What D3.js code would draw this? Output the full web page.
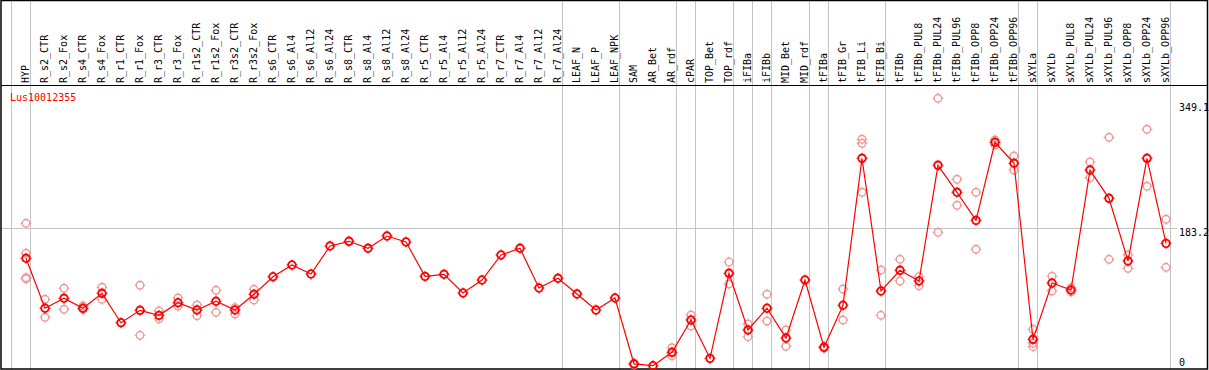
<!DOCTYPE html>
<html>
<head>
<meta charset="utf-8">
<script src="https://cdn.jsdelivr.net/npm/d3@7"></script>
<style>
  body { margin: 0; background: #fff; }
  svg { display: block; }
  text { font-family: "DejaVu Sans Mono", monospace; font-size: 10px; }
</style>
</head>
<body>
<svg id="chart"></svg>
<script>
// sample names along the x axis
var categories = ["HYP", "R_s2_CTR", "R_s2_Fox", "R_s4_CTR", "R_s4_Fox", "R_r1_CTR", "R_r1_Fox", "R_r3_CTR", "R_r3_Fox",
  "R_r1s2_CTR", "R_r1s2_Fox", "R_r3s2_CTR", "R_r3s2_Fox", "R_s6_CTR", "R_s6_Al4", "R_s6_Al12", "R_s6_Al24",
  "R_s8_CTR", "R_s8_Al4", "R_s8_Al12", "R_s8_Al24", "R_r5_CTR", "R_r5_Al4", "R_r5_Al12", "R_r5_Al24",
  "R_r7_CTR", "R_r7_Al4", "R_r7_Al12", "R_r7_Al24", "LEAF_N", "LEAF_P", "LEAF_NPK", "SAM", "AR_Bet", "AR_rdf",
  "cPAR", "TOP_Bet", "TOP_rdf", "iFIBa", "iFIBb", "MID_Bet", "MID_rdf", "tFIBa", "tFIB_Gr", "tFIB_Li", "tFIB_Bi",
  "tFIBb", "tFIBb_PUL8", "tFIBb_PUL24", "tFIBb_PUL96", "tFIBb_OPP8", "tFIBb_OPP24", "tFIBb_OPP96",
  "sXYLa", "sXYLb", "sXYLb_PUL8", "sXYLb_PUL24", "sXYLb_PUL96", "sXYLb_OPP8", "sXYLb_OPP24", "sXYLb_OPP96"];

// first sample of each tissue group (a gray separator goes before it)
var groupStarts = ["HYP", "R_s2_CTR", "LEAF_N", "SAM", "cPAR", "TOP_Bet", "iFIBa", "iFIBb", "MID_Bet",
  "tFIBa", "tFIB_Gr", "tFIBb", "sXYLa", "sXYLb"];

var geneName = "Lus10012355";

// mean expression per sample
var means = [143.3, 76.8, 90.1, 76.8, 96.7, 57.6, 74.1, 67.4, 84.2,
  74.5, 86.1, 74.5, 95.4, 118.8, 134.4, 122.4, 159.6,
  165.9, 156.6, 172.9, 165.0, 119.3, 122.0, 97.1, 114.4,
  147.7, 156.6, 103.8, 116.7, 95.8, 74.5, 90.5, 2.7, 0.4, 18.2,
  61.2, 10.2, 123.3, 47.9, 76.8, 37.2, 114.4, 24.9, 80.8, 276.3, 99.8,
  127.3, 113.1, 267.0, 231.1, 193.8, 297.6, 269.7,
  35.5, 110.4, 101.1, 260.7, 223.1, 139.7, 276.3, 163.2];

// individual replicates (null = not shown)
var repA = [189.8, 88.7, 103.4, 79.8, 104.7, null, 107.4, 73.2, 90.5,
  81.1, 100.7, 77.6, 102.0, null, null, null, null,
  null, null, null, null, null, null, null, null,
  null, null, null, null, null, null, null, 4.0, null, 24.3,
  67.8, null, 138.4, 55.9, 95.4, 47.9, null, 26.0, 102.4, 301.6, 127.7,
  141.9, 118.8, 356.1, 248.4, 231.1, 300.7, 279.4,
  48.8, 119.3, 104.2, 271.4, 304.2, 147.7, 314.9, 195.2];
var repB = [150.0, 64.8, 75.4, 75.4, 88.7, null, 40.8, 62.9, 79.8,
  66.9, 71.4, 69.2, 87.8, null, null, null, null,
  null, null, null, null, null, null, null, null,
  null, null, null, null, null, null, null, 1.5, null, 13.7,
  53.2, null, 109.1, 39.0, 59.9, 26.2, null, 23.8, 61.2, 296.3, 67.4,
  113.1, 106.8, 177.9, 213.8, 155.3, 294.0, 260.7,
  30.2, 99.8, 98.8, 250.5, 141.9, 130.0, 239.1, 131.3];
var repC = [117.5, null, null, null, null, null, null, null, null,
  null, null, null, null, null, null, null, null,
  null, null, null, null, null, null, null, null,
  null, null, null, null, null, null, null, null, null, null,
  null, null, null, null, null, null, null, null, null, 231.1, null,
  null, null, null, null, null, null, null,
  25.7, null, null, null, null, null, null, null];
var repD = [116.0];

var yTicks = [0, 183.2, 349.1];
var gridTicks = [183.2];

var width = 1209, height = 370;
var headerY = 85;

var svg = d3.select("#chart").attr("width", width).attr("height", height);

var x = d3.scalePoint().domain(categories).range([26, 1166]);
var y = d3.scaleLinear().domain([0, 349.1]).range([366, 103.6]);

// group separators
var sepX = groupStarts.map(function (c) { return x(c) - 15; });
sepX.push(x(categories[categories.length - 1]) + 4);
svg.append("g").selectAll("line").data(sepX).enter().append("line")
  .attr("x1", function (d) { return Math.round(d) + 0.5; })
  .attr("x2", function (d) { return Math.round(d) + 0.5; })
  .attr("y1", 0).attr("y2", height)
  .attr("stroke", "#c4c4c4").attr("stroke-width", 1)
  .attr("shape-rendering", "crispEdges");

// horizontal grid
svg.append("g").selectAll("line").data(gridTicks).enter().append("line")
  .attr("x1", 1).attr("x2", 1177)
  .attr("y1", function (d) { return Math.round(y(d)) + 0.5; })
  .attr("y2", function (d) { return Math.round(y(d)) + 0.5; })
  .attr("stroke", "#c4c4c4").attr("stroke-width", 1)
  .attr("shape-rendering", "crispEdges");

// frame and header divider
svg.append("rect").attr("x", 1).attr("y", 0.5).attr("width", 1206.5).attr("height", 368.5)
  .attr("fill", "none").attr("stroke", "#000").attr("stroke-width", 1.5);
svg.append("line").attr("x1", 1).attr("x2", 1207).attr("y1", headerY + 0.5).attr("y2", headerY + 0.5)
  .attr("stroke", "#000").attr("stroke-width", 1).attr("shape-rendering", "crispEdges");

// sample labels, rotated
svg.append("g").selectAll("text").data(categories).enter().append("text")
  .attr("transform", function (d) { return "translate(" + (x(d) + 3) + "," + (headerY - 2) + ") rotate(-90)"; })
  .attr("fill", "#000")
  .text(function (d) { return d; });

// y labels on the right
svg.append("g").selectAll("text").data(yTicks).enter().append("text")
  .attr("x", 1179)
  .attr("y", function (d, i) {
    var top = y(d);
    if (top + 8 > 366) top = 366 - 8;
    return top + 7.8;
  })
  .attr("fill", "#000")
  .text(function (d) { return d === 0 ? "0" : d.toFixed(1); });

svg.append("text").attr("x", 10).attr("y", 101).attr("fill", "#ff0000").text(geneName);

function marker(g, color, sw) {
  g.append("circle").attr("r", 3.8).attr("fill", "none").attr("stroke", color).attr("stroke-width", sw);
  [[0, -1], [0, 1], [-1, 0], [1, 0]].forEach(function (v) {
    g.append("line")
      .attr("x1", v[0] * 3).attr("y1", v[1] * 3)
      .attr("x2", v[0] * 5.5).attr("y2", v[1] * 5.5)
      .attr("stroke", color).attr("stroke-width", 1);
  });
}

// replicates
var reps = [];
[repA, repB, repC, repD].forEach(function (arr) {
  arr.forEach(function (v, i) {
    if (v !== null && v !== undefined) reps.push({ c: categories[i], v: v });
  });
});
svg.append("g").selectAll("g").data(reps).enter().append("g")
  .attr("transform", function (d) { return "translate(" + x(d.c) + "," + y(d.v) + ")"; })
  .each(function () { marker(d3.select(this), "#ee9a9a", 1.4); });

// mean line
var line = d3.line()
  .x(function (d, i) { return x(categories[i]); })
  .y(function (d) { return y(d); });
svg.append("path").datum(means).attr("d", line)
  .attr("fill", "none").attr("stroke", "#ff0000").attr("stroke-width", 1.2);

svg.append("g").selectAll("g").data(means).enter().append("g")
  .attr("transform", function (d, i) { return "translate(" + x(categories[i]) + "," + y(d) + ")"; })
  .each(function () { marker(d3.select(this), "#ff0000", 1.8); });
</script>
</body>
</html>
